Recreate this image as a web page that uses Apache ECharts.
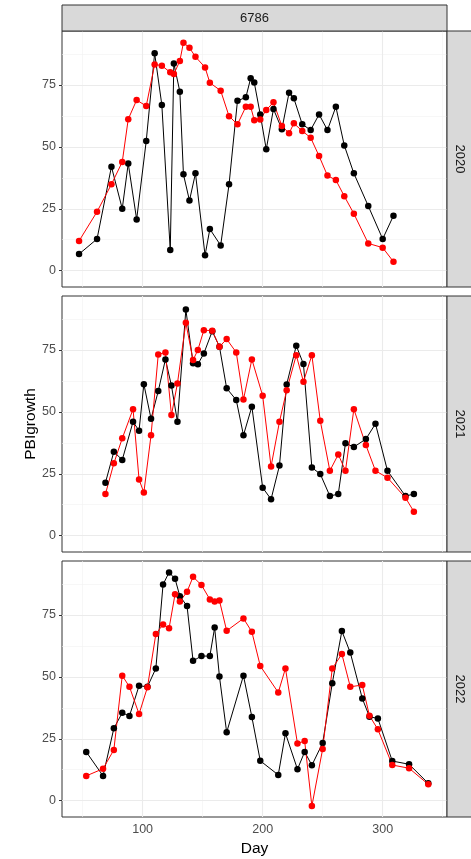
<!DOCTYPE html>
<html><head><meta charset="utf-8">
<script src="https://cdn.jsdelivr.net/npm/echarts@6/dist/echarts.min.js"></script>
<style>html,body{margin:0;padding:0;background:#fff}#c{width:471px;height:859px}</style>
</head><body><div id="c"></div>
<script>
const facetLabel = '6786';
const years = ['2020', '2021', '2022'];
const xTitle = 'Day';
const yTitle = 'PBIgrowth';
const yTicks = [0, 25, 50, 75];
const xTicks = [100, 200, 300];

const days2020 = [47, 62, 74, 83, 88, 95, 103, 110, 116, 123, 126, 131, 134, 139, 144, 152, 156, 165, 172, 179, 186, 190, 193, 198, 203, 209, 216, 222, 226, 233, 240, 247, 254, 261, 268, 276, 288, 300, 309];
const black2020 = [6.7, 12.8, 42.0, 25.0, 43.3, 20.7, 52.4, 87.8, 66.9, 8.3, 83.7, 72.3, 38.9, 28.3, 39.3, 6.2, 16.8, 10.2, 34.9, 68.6, 70.0, 77.7, 76.0, 63.1, 49.0, 65.3, 57.1, 71.9, 69.6, 59.1, 56.8, 63.1, 56.8, 66.2, 50.6, 39.3, 26.1, 12.8, 22.2];
const red2020 = [12.0, 23.8, 34.9, 43.9, 61.2, 68.9, 66.5, 83.3, 82.8, 80.1, 79.4, 84.7, 92.1, 90.0, 86.4, 82.1, 75.9, 72.7, 62.4, 59.1, 66.2, 66.2, 60.8, 61.1, 64.9, 68.0, 58.4, 55.5, 59.5, 56.4, 53.7, 46.3, 38.4, 36.6, 30.1, 23.0, 11.0, 9.3, 3.6];

const days2021 = [69, 76, 83, 92, 97, 101, 107, 113, 119, 124, 129, 136, 142, 146, 151, 158, 164, 170, 178, 184, 191, 200, 207, 214, 220, 228, 234, 241, 248, 256, 263, 269, 276, 286, 294, 304, 319, 326];
const black2021 = [21.4, 33.9, 30.6, 46.0, 42.4, 61.2, 47.2, 58.4, 71.2, 60.6, 46.0, 91.3, 69.6, 69.2, 73.6, 82.6, 76.3, 59.5, 54.8, 40.6, 52.1, 19.4, 14.7, 28.3, 61.1, 76.7, 69.3, 27.5, 24.9, 16.0, 16.8, 37.3, 35.8, 39.0, 45.2, 26.2, 16.0, 16.8];
const red2021 = [16.8, 29.2, 39.3, 51.1, 22.7, 17.4, 40.6, 73.2, 74.0, 48.7, 61.5, 86.0, 70.9, 75.0, 83.0, 82.8, 76.3, 79.4, 74.0, 55.0, 71.2, 56.5, 27.9, 46.0, 58.7, 72.9, 62.2, 72.9, 46.4, 26.2, 32.8, 26.2, 51.1, 36.6, 26.2, 23.4, 15.3, 9.7];

const days2022 = [53, 67, 76, 83, 89, 97, 104, 111, 117, 122, 127, 131, 137, 142, 149, 156, 160, 164, 170, 184, 191, 198, 213, 219, 229, 235, 241, 250, 258, 266, 273, 283, 289, 296, 308, 322, 338];
const black2022 = [19.7, 10.0, 29.2, 35.5, 34.2, 46.4, 46.0, 53.4, 87.3, 92.2, 89.6, 82.6, 78.6, 56.5, 58.4, 58.4, 69.9, 50.1, 27.6, 50.5, 33.8, 16.1, 10.4, 27.2, 12.7, 19.7, 14.3, 23.3, 47.4, 68.5, 59.8, 41.3, 33.9, 33.2, 16.0, 14.7, 7.0];
const red2022 = [10.0, 12.9, 20.5, 50.5, 46.0, 35.0, 45.8, 67.3, 71.2, 69.6, 83.4, 80.4, 84.4, 90.4, 87.1, 81.3, 80.4, 80.8, 68.6, 73.6, 68.2, 54.4, 43.7, 53.4, 23.1, 24.1, -2.2, 20.9, 53.4, 59.2, 46.0, 46.7, 34.3, 28.8, 14.4, 13.1, 6.6];

const panels = [
  {days: days2020, black: black2020, red: red2020},
  {days: days2021, black: black2021, red: red2021},
  {days: days2022, black: black2022, red: red2022}
];

const L = 62, W = 385, H = 256, tops = [31, 296, 561];
const XMIN = 32.8, XMAX = 353.6, YMIN = -6.6, YMAX = 96.8;
const FONT = '"Liberation Sans", Arial, sans-serif';

const chart = echarts.init(document.getElementById('c'), null, {renderer: 'canvas'});

const grid = [], xAxis = [], yAxis = [], series = [];
const majorStyle = {color: '#ebebeb', width: 1.1, type: 'solid'};
const minorStyle = {color: '#f2f2f2', width: 0.6, type: 'solid'};

panels.forEach((p, i) => {
  grid.push({left: L, top: tops[i], width: W, height: H, show: true, backgroundColor: '#fff', borderColor: '#333', borderWidth: 1, containLabel: false});
  xAxis.push({
    type: 'value', gridIndex: i, min: XMIN, max: XMAX,
    axisLine: {show: false},
    axisTick: {show: i === 2, length: 3, lineStyle: {color: '#333'}, customValues: xTicks},
    axisLabel: {show: i === 2, customValues: xTicks, color: '#4d4d4d', fontSize: 12.5, fontFamily: FONT, margin: 6},
    splitLine: {show: false}
  });
  yAxis.push({
    type: 'value', gridIndex: i, min: YMIN, max: YMAX,
    axisLine: {show: false},
    axisTick: {show: true, length: 3, lineStyle: {color: '#333'}, customValues: yTicks},
    axisLabel: {show: true, customValues: yTicks, color: '#4d4d4d', fontSize: 12.5, fontFamily: FONT, margin: 6},
    splitLine: {show: false}
  });
  const gl = [];
  [12.5, 37.5, 62.5, 87.5].forEach(v => gl.push({yAxis: v, lineStyle: minorStyle}));
  [50, 150, 250, 350].forEach(v => gl.push({xAxis: v, lineStyle: minorStyle}));
  yTicks.forEach(v => gl.push({yAxis: v, lineStyle: majorStyle}));
  xTicks.forEach(v => gl.push({xAxis: v, lineStyle: majorStyle}));
  series.push({
    type: 'line', xAxisIndex: i, yAxisIndex: i, data: [], z: 1, silent: true,
    markLine: {silent: true, z: 1, symbol: ['none', 'none'], label: {show: false}, animation: false, data: gl}
  });
  const bl = p.days.map((d, k) => [d, p.black[k]]);
  const rd = p.days.map((d, k) => [d, p.red[k]]);
  series.push({type: 'line', xAxisIndex: i, yAxisIndex: i, data: bl, showSymbol: false, symbol: 'none', lineStyle: {color: '#000', width: 1}, z: 3, silent: true});
  series.push({type: 'line', xAxisIndex: i, yAxisIndex: i, data: rd, showSymbol: false, symbol: 'none', lineStyle: {color: '#ff0000', width: 1}, z: 3, silent: true});
  series.push({type: 'scatter', xAxisIndex: i, yAxisIndex: i, data: bl, symbol: 'circle', symbolSize: 6.5, itemStyle: {color: '#000', opacity: 1}, z: 6, silent: true});
  series.push({type: 'scatter', xAxisIndex: i, yAxisIndex: i, data: rd, symbol: 'circle', symbolSize: 6.5, itemStyle: {color: '#ff0000', opacity: 1}, z: 6, silent: true});
});

const graphic = [];
graphic.push({type: 'rect', shape: {x: L, y: 5, width: W, height: 26}, style: {fill: '#d9d9d9', stroke: '#333', lineWidth: 1}, z: 10});
graphic.push({type: 'text', x: L + W / 2, y: 18, style: {text: facetLabel, fill: '#1a1a1a', font: '13px ' + FONT, textAlign: 'center', textVerticalAlign: 'middle'}, z: 11});
years.forEach((yr, i) => {
  graphic.push({type: 'rect', shape: {x: L + W, y: tops[i], width: 30, height: H}, style: {fill: '#d9d9d9', stroke: '#333', lineWidth: 1}, z: 10});
  graphic.push({type: 'text', x: 460, y: tops[i] + H / 2, rotation: -Math.PI / 2, style: {text: yr, fill: '#1a1a1a', font: '13px ' + FONT, textAlign: 'center', textVerticalAlign: 'middle'}, z: 11});
});
graphic.push({type: 'text', x: L + W / 2, y: 849, style: {text: xTitle, fill: '#000', font: '15.5px ' + FONT, textAlign: 'center', textVerticalAlign: 'middle'}, z: 11});
graphic.push({type: 'text', x: 31, y: (tops[0] + tops[2] + H) / 2, rotation: Math.PI / 2, style: {text: yTitle, fill: '#000', font: '15.5px ' + FONT, textAlign: 'center', textVerticalAlign: 'middle'}, z: 11});

chart.setOption({animation: false, backgroundColor: '#fff', grid, xAxis, yAxis, series, graphic});
</script></body></html>
